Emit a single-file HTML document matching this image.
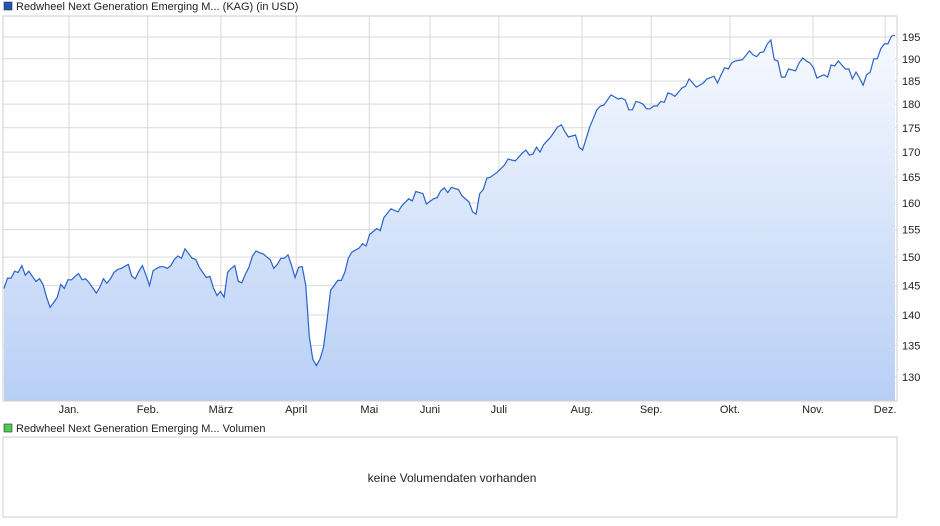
<!DOCTYPE html>
<html><head><meta charset="utf-8">
<style>
body{margin:0;background:#fff;font-family:"Liberation Sans",sans-serif;}
svg{display:block}
</style></head>
<body>
<svg id="chart" width="940" height="526" viewBox="0 0 940 526" xmlns="http://www.w3.org/2000/svg">
<defs>
<linearGradient id="fillg" x1="0" y1="0" x2="0" y2="1">
<stop offset="0" stop-color="#f7faff"/>
<stop offset="1" stop-color="#b8cff5"/>
</linearGradient>
</defs>
<rect x="4" y="2" width="8" height="8" fill="#1f57b8" stroke="#333" stroke-width="0.6"/>
<text x="16" y="10" font-size="11" fill="#222">Redwheel Next Generation Emerging M... (KAG) (in USD)</text>
<g id="grid"></g>
<path id="area" fill="url(#fillg)"/>
<path id="line" fill="none" stroke="#2a62c9" stroke-width="1.2"/>
<rect x="3" y="16" width="894" height="385" fill="none" stroke="#cfcfcf"/>
<g id="yaxis"></g>
<g id="xaxis"></g>
<rect x="4" y="424" width="8" height="8" fill="#4fc94f" stroke="#333" stroke-width="0.6"/>
<text x="16" y="432" font-size="11" fill="#222">Redwheel Next Generation Emerging M... Volumen</text>
<rect x="3" y="437" width="894" height="80" fill="#fff" stroke="#cfcfcf"/>
<text x="452" y="482" font-size="12" fill="#222" text-anchor="middle">keine Volumendaten vorhanden</text>
</svg>
<script>
const yTicks=[130,135,140,145,150,155,160,165,170,175,180,185,190,195];
const months=["Jan.","Feb.","März","April","Mai","Juni","Juli","Aug.","Sep.","Okt.","Nov.","Dez."];
const monthDay=[18.3,40.5,61.1,82.3,102.9,120,139.4,162.8,182.3,204.5,227.9,248.2];
const tradingDay=[0,1,2,3,4,5,6,7,8,9,10,11,12,13,14,15,16,17,18,19,20,21,22,23,24,26,27,28,29,30,31,32,33,35,36,37,38,39,40,41,42,43,44,45,46,47,48,49,50,51,53,54,55,56,57,58,59,60,61,62,63,64,65,66,67,68,69,70,71,72,73,75,76,77,78,79,80,81,82,83,84,85,86,87,88,89,
90,91,92,93,94,95,96,97,98,100,101,102,103,105,106,107,109,111,112,114,115,116,118,119,121,122,123,124,125,126,128,129,131,132,133,134,135,136,137,139,141,142,143,144,146,147,148,149,150,151,152,153,154,156,157,158,159,161,162,163,165,167,168,169,171,173,
174,175,176,177,178,179,180,181,182,183,184,185,186,187,188,189,190,191,192,193,194,195,197,198,200,201,202,203,204,205,206,208,210,211,212,213,214,215,216,217,218,219,220,221,222,223,224,225,226,227,228,229,230,231,232,233,234,235,236,237,238,239,240,241,242,243,244,245,246,247,248,249,250,251];
const prices=[144.5,146.3,146.3,147.5,147.3,148.5,146.8,147.5,146.6,145.7,146.2,145.2,143,141.3,142.1,143,145.2,144.5,146,146,146.6,147.1,146,146.2,145.5,143.7,144.7,146.2,145.4,146.2,147.3,147.8,148,148.7,146.6,146.2,147.5,148.5,146.8,145,147.6,148,148.3,148.3,148,148.5,149.6,150.2,149.8,151.5,149.8,149.6,148.2,147.3,146.4,146.6,144.6,143.3,144,143,147.3,148,148.5,145.7,145.5,147,148.2,150.2,151.1,150.8,150.6,149.5,148,148.7,149.8,149.8,150.4,148.5,146.4,148.2,148.3,145,136.5,132.8,131.8,132.8,
134.7,139.2,144.2,145,145.9,145.9,147.3,149.8,150.9,151.6,152.4,152,154.1,155.2,154.8,157.2,158.9,158.3,159.4,160.8,160.4,162.2,161.8,159.8,160.8,161,162.3,162.9,162,163,162.6,161.4,160.2,158.3,157.9,161.8,162.6,164.8,165,166,167.4,168.6,168.4,168.2,169.8,170.4,169.4,169.6,171,170,171.5,172.3,173.1,175.2,175.6,174.2,173.1,173.5,171,170.4,175.2,178.8,179.6,179.8,182,181.1,
181.3,180.9,178.8,178.8,180.6,180.4,180,179,179,179.6,179.6,180.6,180.4,182.4,182.2,181.7,182.6,183.5,183.9,185.5,184.6,183.7,184.6,185.5,186.1,184.6,186.4,188,187.7,189.1,189.5,189.8,191.8,190.9,190.5,191.4,191.6,193.4,194.3,189.8,189.5,185.9,185.9,187.7,187.5,187.3,189.1,190.2,189.5,189.1,188,185.7,186.1,186.4,185.9,188.6,188.4,189.5,188.6,187.7,187.7,185.5,187,185.7,184.1,186.4,187,190,190,192.3,193.4,193.4,195.2,195.4];

const L=3,R=897,T=16,B=401;
function yS(v){return 37+839*(Math.log(195)-Math.log(v));}
function xS(d){return 4+3.55*d;}
const NS="http://www.w3.org/2000/svg";
const grid=document.getElementById('grid'),ya=document.getElementById('yaxis'),xa=document.getElementById('xaxis');
yTicks.forEach(t=>{
  const y=yS(t);
  const ln=document.createElementNS(NS,'line');
  
  
  ln.setAttribute('x1',L);ln.setAttribute('x2',R);ln.setAttribute('y1',y);ln.setAttribute('y2',y);
  ln.setAttribute('stroke','#d9d9d9');grid.appendChild(ln);
  const tx=document.createElementNS(NS,'text');
  
  
  tx.setAttribute('x',902);tx.setAttribute('y',y+4);tx.setAttribute('font-size','11');tx.setAttribute('fill','#222');
  tx.textContent=t;ya.appendChild(tx);
});
months.forEach((m,i)=>{
  const x=xS(monthDay[i]);
  const ln=document.createElementNS(NS,'line');
  
  
  ln.setAttribute('x1',x);ln.setAttribute('x2',x);ln.setAttribute('y1',T);ln.setAttribute('y2',B);
  ln.setAttribute('stroke','#d9d9d9');grid.appendChild(ln);
  const tx=document.createElementNS(NS,'text');
  
  
  tx.setAttribute('x',x);tx.setAttribute('y',413);tx.setAttribute('font-size','11');tx.setAttribute('fill','#222');tx.setAttribute('text-anchor','middle');
  tx.textContent=m;xa.appendChild(tx);
});
let d='';
prices.forEach((v,i)=>{d+=(i?'L':'M')+xS(tradingDay[i]).toFixed(1)+','+yS(v).toFixed(1);});
const n=prices.length-1;
document.getElementById('line').setAttribute('d',d);
document.getElementById('area').setAttribute('d',d+'L'+xS(tradingDay[n]).toFixed(1)+','+B+'L'+xS(tradingDay[0]).toFixed(1)+','+B+'Z');
</script>
</body></html>
